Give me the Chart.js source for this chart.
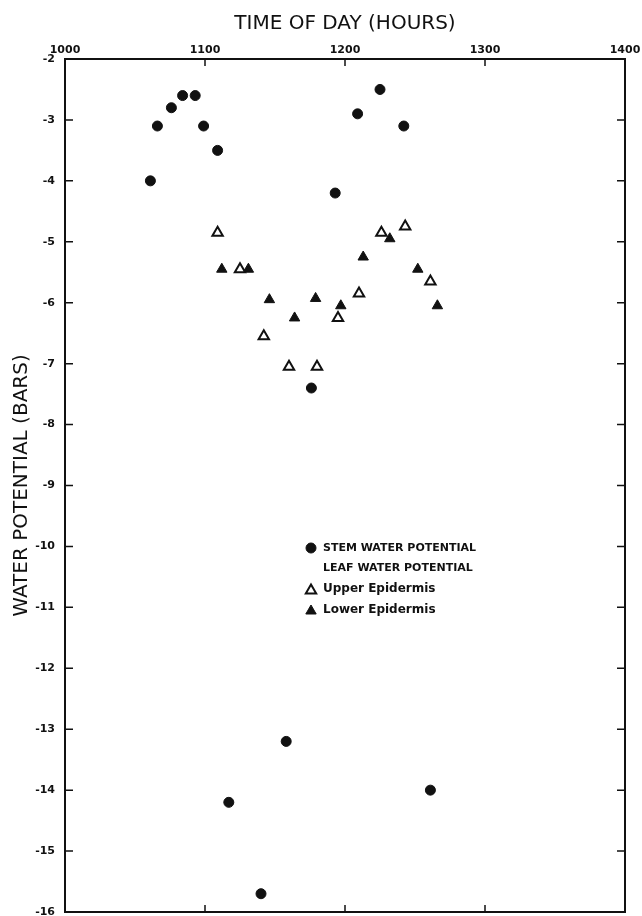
<!DOCTYPE html>
<html>
<head>
<meta charset="utf-8">
<script src="https://cdn.jsdelivr.net/npm/chart.js@4.4.1/dist/chart.umd.min.js"></script>
<style>
  html, body { margin: 0; padding: 0; background: #fff; overflow: hidden; }
  canvas { display: block; }
</style>
</head>
<body>
<canvas id="chart" width="642" height="920"></canvas>
<script>
// Time of day in decimal hours (axis labelled 1000 .. 1400), potentials in bars
const stemTime      = [10.61, 10.66, 10.76, 10.84, 10.93, 10.99, 11.09, 11.17, 11.40, 11.58, 11.76, 11.93, 12.09, 12.25, 12.42, 12.61];
const stemPotential = [-4.0, -3.1, -2.8, -2.6, -2.6, -3.1, -3.5, -14.2, -15.7, -13.2, -7.4, -4.2, -2.9, -2.5, -3.1, -14.0];

const upperTime      = [11.09, 11.25, 11.42, 11.60, 11.80, 11.95, 12.10, 12.26, 12.43, 12.61];
const upperPotential = [-4.85, -5.45, -6.55, -7.05, -7.05, -6.25, -5.85, -4.85, -4.75, -5.65];

const lowerTime      = [11.12, 11.31, 11.46, 11.64, 11.79, 11.97, 12.13, 12.32, 12.52, 12.66];
const lowerPotential = [-5.45, -5.45, -5.95, -6.25, -5.93, -6.05, -5.25, -4.95, -5.45, -6.05];

const xTicks = [10, 11, 12, 13, 14];
const yTicks = [-2, -3, -4, -5, -6, -7, -8, -9, -10, -11, -12, -13, -14, -15, -16];

const legendRows = [
  { text: 'STEM WATER POTENTIAL', marker: 'stem', caps: true },
  { text: 'LEAF WATER POTENTIAL', marker: null, caps: true },
  { text: 'Upper Epidermis', marker: 'upper', caps: false },
  { text: 'Lower Epidermis', marker: 'lower', caps: false }
];

const INK = '#111';
const FONT = "'DejaVu Sans', sans-serif";

const toPoints = (xs, ys) => xs.map((x, i) => ({ x, y: ys[i] }));

const markerStyles = {
  stem:  { pointStyle: 'circle',   radius: 5, backgroundColor: INK,    borderColor: INK, borderWidth: 1 },
  upper: { pointStyle: 'triangle', radius: 6, backgroundColor: '#fff', borderColor: INK, borderWidth: 2 },
  lower: { pointStyle: 'triangle', radius: 6, backgroundColor: INK,    borderColor: INK, borderWidth: 1 }
};

function dataset(label, pts, key) {
  const m = markerStyles[key];
  return {
    label,
    data: pts,
    showLine: false,
    pointStyle: m.pointStyle,
    pointRadius: m.radius,
    pointBackgroundColor: m.backgroundColor,
    pointBorderColor: m.borderColor,
    pointBorderWidth: m.borderWidth,
    pointHoverRadius: m.radius
  };
}

// frame round the plot with short inward ticks on all four sides
const framePlugin = {
  id: 'frame',
  afterDraw(chart) {
    const { ctx, chartArea: a, scales } = chart;
    ctx.save();
    ctx.strokeStyle = INK;
    ctx.lineWidth = 2;
    ctx.strokeRect(a.left, a.top, a.right - a.left, a.bottom - a.top);
    ctx.lineWidth = 1.5;
    ctx.beginPath();
    xTicks.slice(1, -1).forEach(v => {
      const px = scales.x.getPixelForValue(v);
      ctx.moveTo(px, a.top); ctx.lineTo(px, a.top + 7);
      ctx.moveTo(px, a.bottom); ctx.lineTo(px, a.bottom - 7);
    });
    yTicks.slice(1, -1).forEach(v => {
      const py = scales.y.getPixelForValue(v);
      ctx.moveTo(a.left, py); ctx.lineTo(a.left + 8, py);
      ctx.moveTo(a.right, py); ctx.lineTo(a.right - 8, py);
    });
    ctx.stroke();
    ctx.restore();
  }
};

// hand-drawn legend inside the plot, like the original figure
const legendPlugin = {
  id: 'figLegend',
  afterDraw(chart) {
    const { ctx, chartArea: a } = chart;
    const mx = a.left + 246;
    const tx = a.left + 258;
    let y = a.top + 489;
    ctx.save();
    ctx.fillStyle = INK;
    ctx.textBaseline = 'middle';
    legendRows.forEach(row => {
      if (row.marker) {
        const m = markerStyles[row.marker];
        ctx.fillStyle = m.backgroundColor;
        ctx.strokeStyle = m.borderColor;
        ctx.lineWidth = m.borderWidth;
        Chart.helpers.drawPoint(ctx, { pointStyle: m.pointStyle, radius: m.radius, borderWidth: m.borderWidth, rotation: 0 }, mx, row.marker === 'stem' ? y : y + 1.5);
      }
      ctx.fillStyle = INK;
      ctx.font = (row.caps ? 'bold 11px ' : 'bold 12px ') + FONT;
      ctx.fillText(row.text, tx, y);
      y += 20.5;
    });
    ctx.restore();
  }
};

new Chart(document.getElementById('chart'), {
  type: 'scatter',
  data: {
    datasets: [
      dataset('Stem water potential', toPoints(stemTime, stemPotential), 'stem'),
      dataset('Upper epidermis', toPoints(upperTime, upperPotential), 'upper'),
      dataset('Lower epidermis', toPoints(lowerTime, lowerPotential), 'lower')
    ]
  },
  options: {
    responsive: false,
    animation: false,
    layout: { padding: { top: 0, left: 0, right: 17, bottom: 4 } },
    plugins: {
      legend: { display: false },
      tooltip: { enabled: false }
    },
    scales: {
      x: {
        type: 'linear',
        position: 'top',
        min: 10,
        max: 14,
        afterFit: s => { s.height = 59; s.paddingLeft = 0; s.paddingRight = 0; },
        afterBuildTicks: s => { s.ticks = xTicks.map(v => ({ value: v })); },
        grid: { display: false, drawTicks: false, tickLength: 0 },
        border: { display: false },
        ticks: {
          color: INK,
          font: { family: FONT, size: 11, weight: 'bold' },
          padding: 2,
          maxRotation: 0,
          callback: v => String(Math.round(v * 100))
        },
        title: {
          display: true,
          text: 'TIME OF DAY (HOURS)',
          color: INK,
          font: { family: FONT, size: 20 },
          padding: { top: 12, bottom: 0 }
        }
      },
      y: {
        type: 'linear',
        min: -16,
        max: -2,
        afterFit: s => { s.width = 65; s.paddingTop = 0; s.paddingBottom = 0; },
        afterBuildTicks: s => { s.ticks = yTicks.map(v => ({ value: v })); },
        grid: { display: false, drawTicks: false, tickLength: 0 },
        border: { display: false },
        ticks: {
          color: INK,
          font: { family: FONT, size: 11, weight: 'bold' },
          padding: 10
        },
        title: {
          display: true,
          text: 'WATER POTENTIAL (BARS)',
          color: INK,
          font: { family: FONT, size: 20 },
          padding: { top: 10, bottom: 0 }
        }
      }
    }
  },
  plugins: [framePlugin, legendPlugin]
});
</script>
</body>
</html>
